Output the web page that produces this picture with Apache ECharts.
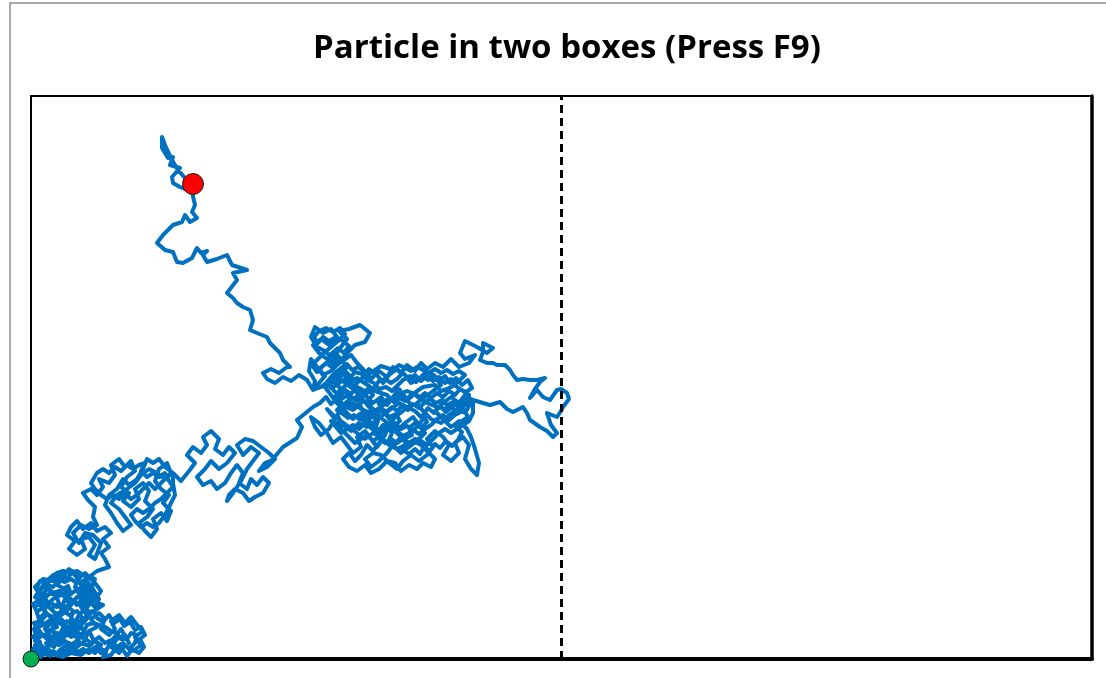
<!DOCTYPE html>
<html>
<head>
<meta charset="utf-8">
<script src="https://cdn.jsdelivr.net/npm/echarts@6/dist/echarts.min.js"></script>
<style>
  html, body { margin: 0; padding: 0; background: #fff; }
  #chart { width: 1106px; height: 678px; }
</style>
</head>
<body>
<div id="chart"></div>
<script>
// box size in walk units (the two boxes split at half width)
const boxWidth = 1061;
const boxHeight = 563;
const divider = 530.5;

const startPoint = [0, 0];
const endPoint = [162, 475];

// walk, in order, from the corner to the final position
const cornerCluster = [
  [0,0],[8,6],[4,14],[14,10],[20,18],[12,24],[6,20],[3,30],[12,36],[18,28],[26,32],[22,42],[14,46],[8,40],
  [4,52],[12,58],[20,50],[28,56],[24,66],[16,70],[10,62],[4,72],[12,80],[22,78],[30,86],[36,80],[42,88],
  [48,82],[44,72],[52,68],[58,74],[62,66],[54,60],[46,62],[40,54],[34,60],[30,50],[38,44],[46,48],[52,40],
  [44,34],[36,38],[32,28],[40,22],[48,26],[54,18],[46,12],[38,16],[30,10],[24,4],[32,2],[40,6],[50,4],
  [58,10],[64,6],[70,14],[62,20],[58,28],[66,32],[60,40],[68,46],[74,40],[70,30],[78,24],[84,30],[80,38],
  [88,44],[94,36],[100,42],[106,34],[112,28],[104,22],[110,14],[102,8],[94,14],[88,6],[80,12],[86,20],
  [94,24],[98,16],[90,30],[82,20],[74,16],[68,22],[60,16],[52,22],[44,28],[50,36],[56,44],[50,52],[58,58],
  [64,52],[68,60],[62,70],[56,78],[50,74],[46,84],[38,90],[32,82],[26,74],[34,70],[38,62],[30,64],[22,60],
  [16,54],[24,46],[30,40],[20,36],[14,30],[20,22],[28,18],[36,24],[42,32],[48,44],[54,50],[60,56],[66,62],
  [70,68],[64,76],[58,82]
];

const cornerRevisit = [
  [54,86],[47,80],[43,85],[35,87],[28,81],[22,84],[17,76],[9,78],[5,70],[11,66],[7,58],[2,55],[6,47],
  [11,51],[16,45],[10,38],[3,36],[7,27],[2,22],[9,17],[5,9],[12,4],[18,9],[15,16],[23,12],[27,20],[22,27],
  [29,25],[33,33],[27,37],[24,45],[31,47],[36,53],[42,48],[40,40],[47,37],[43,29],[51,31],[56,24],[52,15],
  [59,13],[64,19],[69,11],[75,7],[72,2],[80,4],[85,11],[92,9],[96,3],[101,10],[108,6],[113,12],[109,20],
  [114,24],[110,32],[104,29],[99,37],[93,33],[89,40],[83,36],[78,44],[72,37],[66,41],[63,48],[57,47],
  [54,55],[60,60],[56,66],[50,63],[45,69],[40,65],[37,73],[31,69],[26,63],[19,66],[14,61],[18,55],[13,49],
  [19,42],[25,38],[21,30],[15,24],[8,25],[4,18],[11,13],[19,3],[27,7],[34,4],[37,12],[44,9],[49,16],
  [45,22],[38,28],[34,36],[28,42],[34,48],[41,57],[48,56],[53,62],[48,70],[55,74],[61,72],[64,80],[58,82]
];

const cornerCore = [
  [52,78],[46,76],[40,80],[34,77],[28,79],[22,72],[16,74],[10,70],[6,64],[12,60],[8,54],[14,52],[20,56],
  [26,52],[32,55],[36,48],[30,44],[24,40],[18,38],[12,34],[6,32],[10,26],[16,20],[22,16],[28,14],[34,18],
  [40,14],[46,18],[52,26],[56,34],[62,36],[68,34],[74,32],[80,28],[86,26],[90,20],[96,20],[100,26],[106,24],
  [104,16],[98,10],[92,16],[86,12],[80,18],[76,10],[70,6],[64,12],[58,6],[52,10],[46,6],[40,10],[34,8],
  [28,4],[22,8],[16,4],[10,8],[6,14],[2,10],[4,4],[10,2],[18,14],[24,24],[30,22],[36,30],[42,36],[48,32],
  [54,38],[60,46],[66,50],[72,54],[66,56],[62,62],[56,70],[52,58],[46,54],[40,60],[34,64],[28,68],[22,66],
  [16,64],[10,58],[4,62],[8,68],[14,76],[20,82],[26,86],[32,88],[40,86],[46,88],[52,84],[58,82]
];

const armC = [
  [66,88],[78,92],[74,100],[70,106],[78,112],[72,120],[80,126],[74,132],[66,128],[60,136],[52,130],[46,138],
  [40,132],[36,124],[44,118],[38,110],[46,104],[54,110],[50,120],[58,122],[64,114],[58,104],[64,100],[70,116],
  [62,124],[54,126],[48,116],[42,126],[50,134],[58,130],[66,134],[62,142],[64,152],[57,159]
];

const armD = [
  [52,166],[60,170],[66,164],[72,172],[68,180],[78,176],[84,184],[80,194],[88,200],[94,192],[100,198],
  [104,188],[96,182],[90,172],[98,166],[92,158],[100,152],[108,160],[104,170],[112,176],[118,168],[114,158],
  [122,150],[116,142],[108,136],[114,128],[120,122],[126,130],[122,140],[130,146],[136,138],[140,148],
  [132,156],[138,164],[130,170],[124,178],[128,190],[136,196],[140,186],[134,180],[126,186],[118,190],
  [110,184],[104,176],[96,170],[86,164],[80,156],[88,150],[94,142],[100,134],[92,128],[86,136],[80,146],
  [74,154],[78,164],[86,170],[92,180],[98,174],[106,180],[112,190],[116,200],[122,196],[128,200],[134,192],
  [142,186]
];

const armDRevisit = [
  [136,182],[130,176],[124,170],[118,176],[112,170],[106,164],[100,160],[94,166],[88,160],[82,164],[76,160],
  [70,164],[64,170],[60,176],[66,186],[72,190],[78,186],[84,192],[90,188],[96,194],[102,190],[108,194],
  [114,196],[110,188],[116,182],[122,186],[128,182],[134,186],[138,178],[142,172],[136,166],[130,160],
  [124,156],[118,150],[112,146],[106,150],[100,144],[104,138],[110,132],[116,136],[122,132],[128,136],
  [134,144],[140,156],[144,164],[142,176],[142,186]
];

const armE = [
  [150,178],[158,188],[164,196],[156,204],[162,212],[170,206],[176,214],[172,222],[180,228],
  [188,220],[184,210],[192,204],[198,212],[204,206],[196,196],[188,190],[180,198],[174,190],[166,182],
  [172,174],[180,178],[186,170],[194,176],[200,186],[206,194],[212,186],[208,176],[216,170],[220,180],
  [226,174],[232,182],[238,176],[232,166],[224,162],[218,158],[212,166],[204,170],[198,164],[196,158],
  [202,166],[210,178],[216,190],[222,198],[228,206],[220,212],[212,204],[206,214],[214,220],[222,218],
  [230,212],[238,206],[244,200],[236,192],[228,188],[234,196],[241,199],[252,212],[266,221],[271,232],
  [266,239],[282,252],[289,256]
];

const centralEntry = [
  [295,262],[300,255],[307,261],[312,254],[318,259],[321,251],[328,255],[333,247],[329,240],[336,237],
  [341,243],[347,238],[344,230],[351,227],[356,232],[361,226],[358,219],[364,215],[369,221],[375,217],
  [372,209],[378,205],[384,210],[389,205],[393,212],[399,208],[404,215],[409,211],[415,218],[421,213],
  [427,219],[431,227],[425,232],[431,238],[437,242],[433,249],[426,245],[421,252],[415,247],[409,253],
  [403,246],[397,251],[392,244],[396,237],[390,231],[384,236],[378,231],[381,224],[375,221],[368,226],
  [363,233],[369,238],[365,245],[358,242],[353,249],[347,246],[341,251],[336,258],[342,264],[337,270],
  [331,266],[325,271],[320,265],[314,269],[309,263],[303,268],[299,276],[306,279],[311,285],[318,280],
  [324,287],[331,285],[336,279],[343,276],[348,270],[355,272],[361,268],[367,274],[372,279],[379,283],
  [385,277],[391,283],[397,279],[403,284],[408,278],[414,283],[419,276],[425,281],[431,274],[437,279],
  [441,271],[435,267],[429,270],[424,264],[418,268],[412,262],[406,266],[400,261],[394,266],[388,261],
  [382,266],[376,260],[370,263],[364,256],[358,261],[352,256],[346,259],[352,248],[360,238],[354,224],
  [348,216],[342,208],[336,214],[330,204],[324,198],[318,206],[312,200],[318,192],[326,188],[334,194],
  [340,186],[348,190],[356,198],[364,196],[370,188],[378,194],[386,190],[392,196],[400,192],[404,200],
  [398,206],[390,214],[382,218],[374,214],[366,210],[358,214],[350,222],[342,226],[334,220],[326,226],
  [318,232],[310,238],[302,244],[296,250]
];

const centralCluster = [
  [296,248],[304,240],[298,230],[290,224],[284,232],[280,242],[288,236],[296,226],[302,216],[310,222],
  [316,214],[322,206],[330,212],[326,222],[334,228],[340,220],[346,212],[352,220],[346,230],[338,238],
  [330,246],[322,240],[314,248],[306,256],[300,264],[294,272],[302,278],[310,270],[318,264],[326,258],
  [334,264],[342,256],[350,262],[356,254],[362,262],[368,270],[374,262],[380,254],[372,248],[364,242],
  [358,234],[366,228],[374,236],[382,242],[388,234],[394,226],[386,218],[378,212],[370,206],[362,214],
  [356,206],[348,198],[340,192],[334,200],[342,206],[350,204],[358,196],[366,190],[372,198],[380,204],
  [388,198],[396,204],[402,212],[396,220],[404,228],[412,222],[418,214],[412,204],[420,198],[428,206],
  [424,216],[432,222],[438,214],[434,200],[440,190],[446,184],[448,196],[444,210],[440,222],[436,230],
  [428,238],[420,232],[412,240],[404,248],[412,256],[420,262],[428,256],[434,264],[440,256],[434,246],
  [426,250],[418,244],[410,236],[400,240],[392,248],[386,256],[394,262],[402,268],[410,274],[404,282],
  [396,288],[388,280],[380,276],[374,284],[366,290],[358,284],[352,276],[346,284],[338,290],[332,282],
  [326,276],[318,284],[312,290],[306,284],[314,276],[322,270],[330,262],[338,252],[346,244],[354,238],
  [362,230],[370,222],[378,226],[386,232],[392,240],[384,248],[376,252],[368,256],[360,250],[352,244],
  [344,238],[336,232],[328,236],[320,228],[312,234],[306,244],[314,252],[322,256],[330,250],[340,246],
  [350,252],[358,258],[366,264],[376,268],[386,264],[396,256],[406,252],[416,250],[426,256],[436,262],
  [442,259]
];

const centralCore = [
  [437,253],[432,258],[427,252],[422,257],[416,254],[411,259],[405,256],[399,260],[393,256],[388,251],
  [382,255],[377,249],[371,253],[366,248],[361,252],[355,247],[350,251],[344,248],[339,243],[333,245],
  [328,240],[323,244],[317,241],[312,245],[306,249],[311,254],[317,251],[322,249],[327,253],[332,258],
  [327,263],[321,260],[315,263],[309,259],[304,262],[308,268],[314,273],[320,277],[326,281],[332,277],
  [338,273],[344,268],[350,266],[356,264],[362,258],[368,261],[374,258],[380,262],[386,268],[392,272],
  [398,273],[404,274],[410,268],[416,270],[422,273],[428,278],[434,284],[428,288],[422,285],[416,289],
  [410,286],[404,290],[398,286],[392,289],[386,292],[380,288],[374,291],[368,294],[362,289],[356,291],
  [350,293],[344,289],[338,285],[333,288],[327,292],[321,289],[316,295],[310,291],[305,287],[300,282],
  [296,277],[300,271],[306,274],[312,279],[318,276],[324,273],[330,270],[336,266],[342,270],[348,278],
  [354,280],[360,276],[366,280],[372,286],[378,280],[384,284],[390,278],[396,283],[402,278],[408,282],
  [414,276],[420,280],[426,272],[432,268],[438,264],[436,256],[430,250],[424,244],[418,239],[412,244],
  [406,240],[400,234],[394,230],[388,225],[382,229],[376,233],[370,230],[364,236],[358,230],[352,234],
  [346,226],[340,231],[334,236],[328,230],[322,234],[316,230],[310,226],[305,232],[300,238],[306,236],
  [312,228],[318,222],[324,216],[330,220],[336,224],[342,218],[348,222],[354,216],[360,220],[366,216],
  [372,220],[378,216],[384,220],[390,218],[396,214],[402,220],[408,226],[414,230],[420,226],[426,230],
  [432,234],[438,238],[442,246],[442,259]
];

const eastExcursion = [
  [452,256],[459,254],[469,257],[476,250],[482,247],[492,252],[496,246],[499,239],[509,232],[516,228],
  [522,222],[526,226],[520,234],[516,246],[526,242],[530,248],[532,252],[538,260],[536,266],[530,270],
  [526,269],[519,259],[512,262],[506,269],[499,261],[504,270],[509,277],[514,281],[506,279],[499,279],
  [492,280],[486,279],[482,284],[479,289],[474,294],[472,296],[466,294],[462,296],[456,296],[449,299],
  [452,307],[452,316],[462,311],[456,306],[446,312],[442,314],[434,318],[429,306],[434,300],[444,304],
  [438,296],[428,292],[420,300]
];

const centralReturn = [
  [412,292],[404,296],[396,290],[390,296],[384,288],[376,294],[370,286],[362,292],[356,282],[348,288],
  [340,280],[332,290],[326,296],[320,304],[312,298],[304,306],[296,300],[288,306],[282,314],[290,320],
  [298,314],[306,322],[300,330],[292,326],[284,332],[280,322],[286,312],[294,308],[302,300],[310,312],
  [316,320],[308,328],[318,330],[329,334],[339,326],[334,317],[324,314],[316,306],[308,296],[300,288],
  [292,284],[286,292],[280,300],[278,288],[284,278],[282,269]
];

const upperKnot = [
  [288,276],[294,283],[288,290],[295,296],[301,292],[306,299],[300,305],[307,311],[313,306],[318,313],
  [312,318],[305,322],[298,318],[292,322],[287,316],[283,322],[288,328],[295,331],[302,327],[309,331],
  [314,325],[307,318],[300,312],[293,306],[287,300],[281,294],[286,287],[292,293],[299,299],[305,293],
  [311,298],[316,292],[310,286],[303,282],[297,277],[290,272],[282,269]
];

const northArm = [
  [276,279],[268,284],[260,278],[252,282],[244,276],[236,280],[232,286],[240,290],[248,286],[256,292],
  [259,292],[252,299],[249,306],[239,316],[236,322],[226,326],[219,329],[222,339],[219,349],[212,352],
  [206,356],[202,361],[196,366],[206,379],[202,386],[216,389],[201,394],[196,404],[186,400],[176,397],
  [172,404],[176,408],[170,406],[166,411],[161,401],[152,396],[146,397],[142,407],[134,409],[126,416],
  [132,424],[142,434],[151,437],[154,444],[159,437],[166,441],[161,447],[164,454],[161,467],[149,472],
  [142,476],[141,482],[149,491],[139,494],[142,502],[137,501],[131,511],[131,522],[134,514],[141,499],
  [147,489],[154,481],[162,475]
];

const walk = cornerCluster.concat(cornerRevisit, cornerCore, armC, armD, armDRevisit, armE,
  centralEntry, centralCluster, centralCore, eastExcursion, centralReturn, upperKnot, northArm);

const chart = echarts.init(document.getElementById('chart'));

const option = {
  animation: false,
  title: {
    text: 'Particle in two boxes (Press F9)',
    left: 562,
    textAlign: 'center',
    top: 27,
    textStyle: {
      fontFamily: '"Open Sans", sans-serif',
      fontSize: 33,
      fontWeight: 'bold',
      color: '#000'
    }
  },
  graphic: [
    {
      type: 'rect',
      shape: { x: 10, y: 3, width: 1110, height: 690 },
      style: { fill: 'none', stroke: '#8c8c8c', lineWidth: 1.5 },
      silent: true
    }
  ],
  grid: {
    show: true,
    left: 31,
    right: 14,
    top: 96,
    bottom: 19,
    borderColor: '#000',
    borderWidth: 2,
    backgroundColor: '#fff'
  },
  xAxis: {
    type: 'value',
    min: 0,
    max: boxWidth,
    axisLine: { show: true, lineStyle: { color: '#000', width: 4 } },
    axisTick: { show: false },
    axisLabel: { show: false },
    splitLine: { show: false }
  },
  yAxis: [
    {
      type: 'value',
      min: 0,
      max: boxHeight,
      axisLine: { show: true, lineStyle: { color: '#000', width: 2 } },
      axisTick: { show: false },
      axisLabel: { show: false },
      splitLine: { show: false }
    },
    {
      type: 'value',
      position: 'right',
      min: 0,
      max: boxHeight,
      axisLine: { show: true, lineStyle: { color: '#000', width: 3.5 } },
      axisTick: { show: false },
      axisLabel: { show: false },
      splitLine: { show: false }
    }
  ],
  series: [
    {
      name: 'Walk',
      type: 'line',
      data: walk,
      showSymbol: false,
      symbol: 'none',
      lineStyle: { color: '#0070C0', width: 4, join: 'round', cap: 'round' },
      markLine: {
        silent: true,
        symbol: 'none',
        label: { show: false },
        lineStyle: { color: '#000', width: 3, type: [8, 5] },
        data: [{ xAxis: divider }]
      },
      z: 2
    },
    {
      name: 'Start',
      type: 'scatter',
      data: [startPoint],
      symbolSize: 16,
      clip: false,
      itemStyle: { color: '#00B050', borderColor: '#1e1e1e', borderWidth: 1, opacity: 1 },
      z: 5
    },
    {
      name: 'End',
      type: 'scatter',
      data: [endPoint],
      symbolSize: 21,
      clip: false,
      itemStyle: { color: '#FF0000', borderColor: '#1e1e1e', borderWidth: 1, opacity: 1 },
      z: 5
    }
  ]
};

chart.setOption(option);
</script>
</body>
</html>
